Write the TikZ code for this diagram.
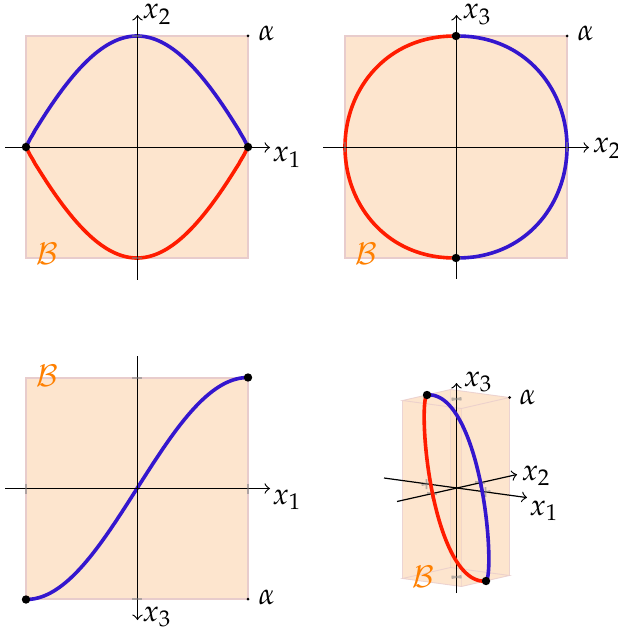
\documentclass[tikz,border=0pt]{standalone}
\usepackage{mathpazo}
\begin{document}
\begin{tikzpicture}[x=0.3333pt,y=-0.3333pt,>=to,
  declare function={cc(\t)=max(abs(cos(90*\t)),0.00001)^0.93;}]
\definecolor{peach}{RGB}{253,229,206}
\definecolor{regborder}{RGB}{232,204,204}
\definecolor{cblue}{RGB}{52,22,206}
\definecolor{cred}{RGB}{255,28,0}
\definecolor{borange}{RGB}{255,128,0}
\tikzset{
  region/.style={fill=peach, draw=regborder, line width=0.4pt},
  boxedge/.style={draw=regborder, line width=0.3pt, opacity=0.8},
  axis/.style={->, line width=0.4pt, black},
  tickm/.style={draw=gray, opacity=0.55, line width=0.6pt},
  cb/.style={draw=cblue, line width=1.2pt},
  cr/.style={draw=cred, line width=1.2pt},
  pt/.style={circle, fill=black, inner sep=0pt, minimum size=2.8pt},
  smallpt/.style={circle, fill=black, inner sep=0pt, minimum size=1pt},
  lab/.style={inner sep=0pt, anchor=base west},
  blab/.style={inner sep=0pt, anchor=base west, text=borange},
}
\useasboundingbox (0,0) rectangle (617,635);

% ================= Panel 1 (x1,x2) =================
\draw[region] (26,36) rectangle (248,258);
\draw[cb] plot[domain=-1:1,samples=150] ({137+111*\x},{147-111*cc(\x)});
\draw[cr] plot[domain=-1:1,samples=150] ({137+111*\x},{147+111*cc(\x)});
\coordinate (p1h0) at (5,147.5); \coordinate (p1h1) at (270,147.5);
\coordinate (p1v0) at (137.5,280); \coordinate (p1v1) at (137.5,15);
\draw[axis] (p1h0) -- (p1h1);
\draw[axis] (p1v0) -- (p1v1);
\draw[tickm] (26,142) -- (26,152) (248,142) -- (248,152) (132,36) -- (142,36) (132,258) -- (142,258);
\node[pt] (p1a) at (26,147) {};
\node[pt] (p1b) at (248,147) {};
\node[smallpt] (p1c) at (248,36) {};
\node[lab] (p1al) at (258,41) {$\alpha$};
\node[lab] (p1x1) at (272,162) {$x_1$};
\node[lab] (p1x2) at (142,19) {$x_2$};
\node[blab] (p1B) at (36,265) {$\mathcal{B}$};

% ================= Panel 2 (x2,x3) =================
\draw[region] (345,36) rectangle (567,258);
\draw[cb] plot[domain=-1:1,samples=150] ({456+111*cc(\x)},{147+111*sin(90*\x)});
\draw[cr] plot[domain=-1:1,samples=150] ({456-111*cc(\x)},{147+111*sin(90*\x)});
\coordinate (p2h0) at (323,147.5); \coordinate (p2h1) at (589,147.5);
\coordinate (p2v0) at (456.5,279); \coordinate (p2v1) at (456.5,15);
\draw[axis] (p2h0) -- (p2h1);
\draw[axis] (p2v0) -- (p2v1);
\draw[tickm] (345,142) -- (345,152) (567,142) -- (567,152) (451,36) -- (461,36) (451,258) -- (461,258);
\node[pt] (p2a) at (456,36) {};
\node[pt] (p2b) at (456,258) {};
\node[smallpt] (p2c) at (567,36) {};
\node[lab] (p2al) at (577,41) {$\alpha$};
\node[lab] (p2x2) at (592,153) {$x_2$};
\node[lab] (p2x3) at (462,19) {$x_3$};
\node[blab] (p2B) at (355,265) {$\mathcal{B}$};

% ================= Panel 3 (x1,x3 down) =================
\draw[region] (26,378) rectangle (248,599);
\draw[cb] plot[domain=-1:1,samples=150] ({137+111*\x},{488.5-111*sin(90*\x)});
\coordinate (p3h0) at (5,488.5); \coordinate (p3h1) at (270,488.5);
\coordinate (p3v0) at (137.5,356); \coordinate (p3v1) at (137.5,620);
\draw[axis] (p3h0) -- (p3h1);
\draw[axis] (p3v0) -- (p3v1);
\draw[tickm] (26,483.5) -- (26,493.5) (248,483.5) -- (248,493.5) (132,378) -- (142,378) (132,599) -- (142,599);
\node[pt] (p3a) at (26,599.5) {};
\node[pt] (p3b) at (248,377.5) {};
\node[smallpt] (p3c) at (248,599) {};
\node[lab] (p3al) at (258,604) {$\alpha$};
\node[lab] (p3x1) at (272,504) {$x_1$};
\node[lab] (p3x3) at (142,621) {$x_3$};
\node[blab] (p3B) at (36,386) {$\mathcal{B}$};

% ================= Panel 4 (3D) =================
\fill[peach] (402.5,400.5) -- (450.5,389.5) -- (509.5,397.5) -- (509.5,575.5) -- (461.5,586.5) -- (402.5,578.5) -- cycle;
\fill[orange, opacity=0.05] (450.5,407) -- (461.5,408.5) -- (461.5,569) -- (450.5,567.5) -- cycle;
\draw[boxedge] (402.5,400.5) -- (450.5,389.5) -- (509.5,397.5) -- (461.5,408.5) -- cycle;
\draw[boxedge] (402.5,578.5) -- (450.5,567.5) -- (509.5,575.5) -- (461.5,586.5) -- cycle;
\draw[boxedge, opacity=0.5] (450.5,389.5) -- (450.5,567.5) (461.5,408.5) -- (461.5,586.5);
\draw[boxedge] (402.5,400.5) -- (402.5,578.5) (509.5,397.5) -- (509.5,575.5);
\coordinate (p4a0) at (384,478); \coordinate (p4a1) at (527,497.6);
\coordinate (p4b0) at (397,501.5); \coordinate (p4b1) at (517,474.5);
\coordinate (p4c0) at (456.5,593); \coordinate (p4c1) at (456.5,383);
\draw[axis] (p4a0) -- (p4a1);
\draw[axis] (p4b0) -- (p4b1);
\draw[axis] (p4c0) -- (p4c1);
\draw[tickm] (451.5,398.3) -- (461.5,399.7) (451.6,400.1) -- (461.4,397.9)
  (451.5,576.3) -- (461.5,577.7) (451.6,578.1) -- (461.4,575.9)
  (480.6,493.1) -- (490.4,490.9) (485.5,487) -- (485.5,497)
  (421.6,485.1) -- (431.4,482.9) (426.5,479) -- (426.5,489)
  (475,481.8) -- (485,483.2) (480,477.5) -- (480,487.5)
  (427,492.8) -- (437,494.2) (432,488.5) -- (432,498.5);
\draw[cr] plot[domain=-1:1,samples=150] ({456.5+29.5*\x-24*cc(\x)},{488+4*\x+5.5*cc(\x)+89*sin(90*\x)});
\draw[cb] plot[domain=-1:1,samples=150] ({456.5+29.5*\x+24*cc(\x)},{488+4*\x-5.5*cc(\x)+89*sin(90*\x)});
\node[pt] (p4a) at (427,395) {};
\node[pt] (p4b) at (486,581) {};
\node[smallpt] (p4c) at (509.5,397.5) {};
\node[lab] (p4al) at (519,404) {$\alpha$};
\node[lab] (p4x1) at (529,515) {$x_1$};
\node[lab] (p4x2) at (521,480) {$x_2$};
\node[lab] (p4x3) at (463,386) {$x_3$};
\node[blab] (p4B) at (412,587) {$\mathcal{B}$};
\end{tikzpicture}
\end{document}
